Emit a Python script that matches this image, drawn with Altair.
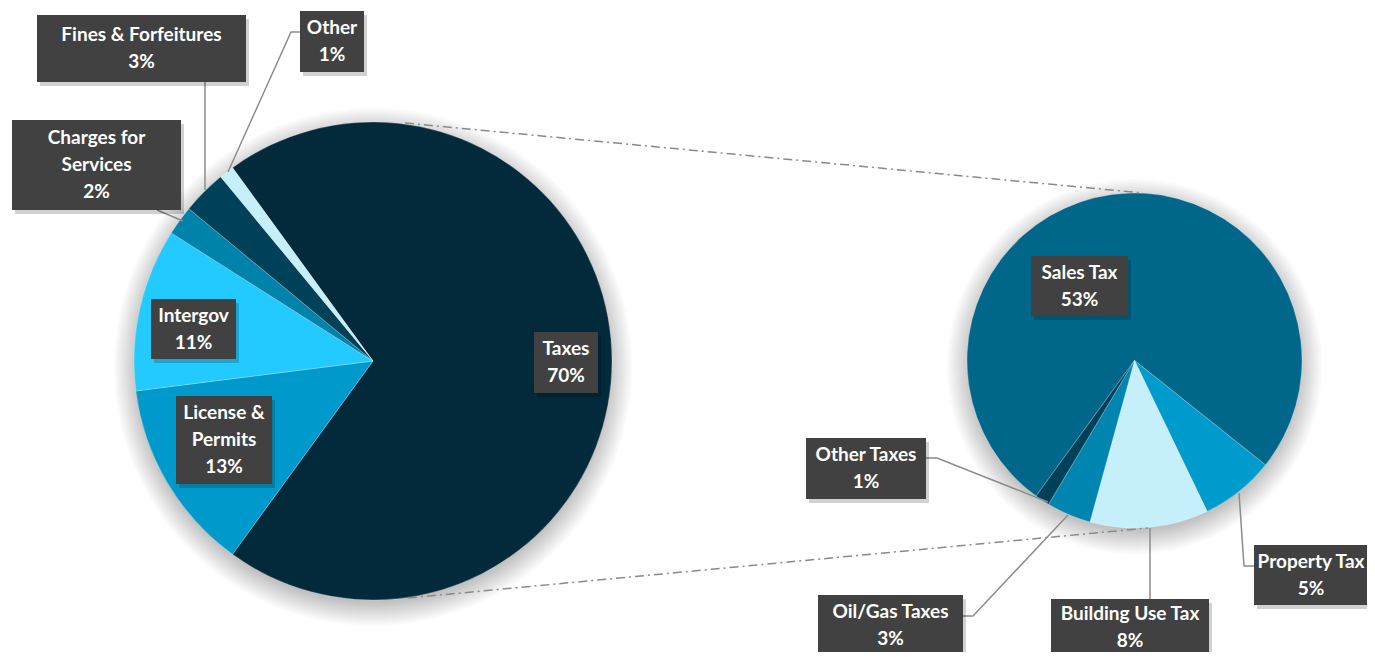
import math
import altair as alt
import pandas as pd

# ---------------- data ----------------
main_cats = ["Taxes", "License & Permits", "Intergov", "Charges for Services",
             "Fines & Forfeitures", "Other"]
main_vals = [70, 13, 11, 2, 3, 1]

tax_cats = ["Sales Tax", "Property Tax", "Building Use Tax", "Oil/Gas Taxes", "Other Taxes"]
tax_vals = [53, 5, 8, 3, 1]

# ---------------- styles / layout ----------------
main_colors = ["#032A3A", "#0099CB", "#22CAFF", "#0083AB", "#00415A", "#C6EFFC"]
tax_colors = ["#00678A", "#009BCD", "#C6EFFC", "#0085B0", "#00415A"]

W, H = 1359, 644          # chart area; page offset 8px
OFF = 8
L_CX, L_CY, L_R, L_START = 373, 361, 239, -36
R_CX, R_CY, R_R, R_START = 1134.5, 360.5, 167.5, -144
LINE_H = 27

wrap = {"License & Permits": "License &\nPermits",
        "Charges for Services": "Charges for\nServices"}

# label boxes: x0, x1, y0, y1, text-center x, text y shift (page coords)
boxes = {
    "Taxes": (534, 598, 332, 393, None, 0),
    "License & Permits": (176, 272, 396, 484, None, 0),
    "Intergov": (151, 236, 299, 359, None, 0),
    "Charges for Services": (12, 181, 120, 210, None, 0),
    "Fines & Forfeitures": (37, 246, 15, 82, None, 0),
    "Other": (300, 364, 11, 72, None, 0),
    "Sales Tax": (1031, 1128, 256, 316, None, 0),
    "Property Tax": (1254, 1380, 545, 605, 1311, 0),
    "Building Use Tax": (1051, 1209, 599, 664, None, -4),
    "Oil/Gas Taxes": (818, 963, 595, 657, None, -1),
    "Other Taxes": (806, 926, 438, 499, None, 0),
}

leaders = {
    "Fines & Forfeitures": [(205, 82), (205, 190)],
    "Other": [(300, 32), (291, 32), (228, 172)],
    "Charges for Services": [(157, 210), (183, 221)],
    "Other Taxes": [(926, 458), (937, 458), (1048, 502)],
    "Oil/Gas Taxes": [(963, 616), (973, 616), (1068, 515)],
    "Building Use Tax": [(1150, 528), (1150, 599)],
    "Property Tax": [(1239, 493), (1244, 566), (1254, 566)],
}

connectors = [(405, 123, 1143, 193), (408, 598, 1148, 528)]

# ---------------- tables ----------------
def pie_table(cats, vals, start_deg):
    total = sum(vals)
    rows, acc = [], 0.0
    s = math.radians(start_deg)
    for i, (c, v) in enumerate(zip(cats, vals)):
        t0 = s + 2 * math.pi * acc / total
        acc += v
        t1 = s + 2 * math.pi * acc / total
        rows.append({"cat": c, "val": v, "t0": t0, "t1": t1, "i": i})
    return pd.DataFrame(rows)

left_df = pie_table(main_cats, main_vals, L_START)
right_df = pie_table(tax_cats, tax_vals, R_START)

all_cats = main_cats + tax_cats
all_vals = main_vals + tax_vals
lab_rows = []
for c, v in zip(all_cats, all_vals):
    x0, x1, y0, y1, tx, dy = boxes[c]
    txt = f"{wrap.get(c, c)}\n{v}%"
    n = txt.count("\n") + 1
    lab_rows.append({
        "cat": c, "text": txt,
        "x0": x0, "x1": x1, "y0": y0, "y1": y1,
        "sx0": x0 + 3, "sx1": x1 + 3, "sy0": y0 + 4, "sy1": y1 + 4,
        "tx": tx if tx is not None else (x0 + x1) / 2,
        "ty": (y0 + y1) / 2 - (n - 1) * LINE_H / 2 + dy,
    })
lab_df = pd.DataFrame(lab_rows)

lead_rows = []
for k, pts in leaders.items():
    for j, (x, y) in enumerate(pts):
        lead_rows.append({"lid": k, "seq": j, "x": x, "y": y})
lead_df = pd.DataFrame(lead_rows)

conn_df = pd.DataFrame(connectors, columns=["x", "y", "x2", "y2"])

ring_df = pd.DataFrame([{"t0": 0.0, "t1": 2 * math.pi}])

# ---------------- scales ----------------
xs = alt.Scale(domain=[OFF, OFF + W], nice=False, zero=False)
ys = alt.Scale(domain=[OFF + H, OFF], nice=False, zero=False)
color_scale = alt.Scale(domain=all_cats, range=main_colors + tax_colors)

def X(f):
    return alt.X(f, type="quantitative", scale=xs, axis=None)

def Y(f):
    return alt.Y(f, type="quantitative", scale=ys, axis=None)

# ---------------- layers ----------------
shadow_layers = []
for cx, cy, r in [(L_CX, L_CY, L_R), (R_CX, R_CY, R_R)]:
    for k in range(20, -6, -2):
        shadow_layers.append(
            alt.Chart(ring_df).mark_arc(radius=r + k, color="black", opacity=0.018)
            .encode(theta=alt.Theta("t0:Q", scale=None), theta2=alt.Theta2("t1:Q"),
                    x=alt.value(cx - OFF), y=alt.value(cy + 6 - OFF))
        )

def pie(df, cx, cy, r):
    return alt.Chart(df).mark_arc(radius=r, stroke="white", strokeWidth=0.4,
                                  strokeOpacity=0.6).encode(
        theta=alt.Theta("t0:Q", scale=None),
        theta2=alt.Theta2("t1:Q"),
        color=alt.Color("cat:N", scale=color_scale, legend=None),
        x=alt.value(cx - OFF), y=alt.value(cy - OFF),
    )

left_pie = pie(left_df, L_CX, L_CY, L_R)
right_pie = pie(right_df, R_CX, R_CY, R_R)

conn = alt.Chart(conn_df).mark_rule(color="#8a8a8a", strokeWidth=1.5,
                                    strokeDash=[9, 4, 2, 4]).encode(
    x=X("x"), y=Y("y"), x2="x2", y2="y2")

lead = alt.Chart(lead_df).mark_line(color="#8c8c8c", strokeWidth=1.5).encode(
    x=X("x"), y=Y("y"), detail="lid:N", order="seq:Q")

box_shadow = alt.Chart(lab_df).mark_rect(color="black", opacity=0.18).encode(
    x=X("sx0"), x2="sx1", y=Y("sy0"), y2="sy1")

box = alt.Chart(lab_df).mark_rect(color="#414141").encode(
    x=X("x0"), x2="x1", y=Y("y0"), y2="y1")

text = alt.Chart(lab_df).mark_text(font="Lato", fontSize=19, fontWeight="bold",
                                   color="white", lineBreak="\n", lineHeight=LINE_H,
                                   align="center", baseline="middle").encode(
    x=X("tx"), y=Y("ty"), text="text:N")

chart = alt.layer(*shadow_layers, left_pie, right_pie, conn, lead,
                  box_shadow, box, text).properties(
    width=W, height=H, padding=0, autosize="none"
).configure_view(stroke=None)

chart.save("out.html", embed_options={"renderer": "svg", "actions": False})
